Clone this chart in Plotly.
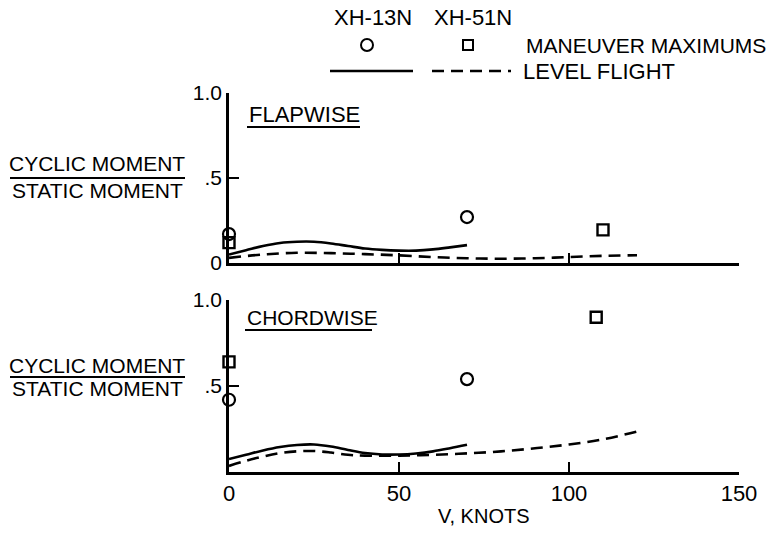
import plotly.graph_objects as go

# ---- data -------------------------------------------------------------
# Flapwise, level flight
flap_solid_v = [0, 5, 10, 15, 20, 25, 30, 35, 40, 45, 50, 55, 60, 65, 70]
flap_solid_m = [0.05, 0.075, 0.10, 0.118, 0.125, 0.125, 0.115, 0.10, 0.085, 0.077, 0.073, 0.073, 0.08, 0.092, 0.105]
flap_dash_v = [0, 10, 20, 30, 40, 50, 60, 70, 80, 90, 100, 110, 120]
flap_dash_m = [0.03, 0.05, 0.06, 0.058, 0.052, 0.045, 0.035, 0.028, 0.025, 0.028, 0.035, 0.042, 0.046]
# Flapwise, maneuver maximums
flap_circ_v = [0, 70]
flap_circ_m = [0.17, 0.27]
flap_sq_v = [0, 110]
flap_sq_m = [0.12, 0.195]

# Chordwise, level flight
chord_solid_v = [0, 5, 10, 15, 20, 25, 30, 35, 40, 45, 50, 55, 60, 65, 70]
chord_solid_m = [0.075, 0.10, 0.125, 0.145, 0.157, 0.16, 0.148, 0.128, 0.11, 0.102, 0.102, 0.108, 0.12, 0.138, 0.158]
chord_dash_v = [0, 5, 10, 15, 20, 25, 30, 35, 40, 50, 60, 70, 80, 90, 100, 110, 120]
chord_dash_m = [0.035, 0.065, 0.09, 0.11, 0.12, 0.122, 0.113, 0.10, 0.095, 0.095, 0.10, 0.108, 0.12, 0.138, 0.16, 0.19, 0.235]
# Chordwise, maneuver maximums
chord_circ_v = [0, 70]
chord_circ_m = [0.42, 0.54]
chord_sq_v = [0, 108]
chord_sq_m = [0.64, 0.90]

x_ticks = [0, 50, 100, 150]
x_tick_text = ["0", "50", "100", "150"]
y_ticks = [0, 0.5, 1.0]
y_tick_text_top = ["0", ".5", "1.0"]
y_tick_text_bottom = ["", ".5", "1.0"]

# ---- styling ----------------------------------------------------------
W, H = 784, 535
FONT = "Liberation Sans"
INK = "black"
LW = 2.6
DASH = "12px,7px"


def px(x):
    return x / W


def py(y):
    return 1 - y / H


fig = go.Figure()


def add_panel(xa, ya, sv, sm, dv, dm, cv, cm, qv, qm):
    fig.add_trace(go.Scatter(x=sv, y=sm, mode="lines", xaxis=xa, yaxis=ya,
                             line=dict(color=INK, width=LW, shape="spline"),
                             showlegend=False, hoverinfo="skip"))
    fig.add_trace(go.Scatter(x=dv, y=dm, mode="lines", xaxis=xa, yaxis=ya,
                             line=dict(color=INK, width=LW, dash=DASH, shape="spline"),
                             showlegend=False, hoverinfo="skip"))
    fig.add_trace(go.Scatter(x=cv, y=cm, mode="markers", xaxis=xa, yaxis=ya,
                             marker=dict(symbol="circle-open", size=12, color=INK,
                                         line=dict(width=2.2, color=INK)),
                             cliponaxis=False, showlegend=False, hoverinfo="skip"))
    fig.add_trace(go.Scatter(x=qv, y=qm, mode="markers", xaxis=xa, yaxis=ya,
                             marker=dict(symbol="square-open", size=11, color=INK,
                                         line=dict(width=2.4, color=INK)),
                             cliponaxis=False, showlegend=False, hoverinfo="skip"))


add_panel("x", "y", flap_solid_v, flap_solid_m, flap_dash_v, flap_dash_m,
          flap_circ_v, flap_circ_m, flap_sq_v, flap_sq_m)
add_panel("x2", "y2", chord_solid_v, chord_solid_m, chord_dash_v, chord_dash_m,
          chord_circ_v, chord_circ_m, chord_sq_v, chord_sq_m)

x_dom = [px(229), px(739)]
common_x = dict(range=[0, 150], domain=x_dom, showline=True, linecolor=INK, linewidth=LW,
                ticks="inside", ticklen=10, tickwidth=2.2, tickcolor=INK,
                tickvals=x_ticks, ticktext=x_tick_text, showgrid=False, zeroline=False,
                automargin=False,
                tickfont=dict(family=FONT, size=22, color=INK))
common_y = dict(range=[0, 1.0], showline=True, linecolor=INK, linewidth=LW,
                ticks="inside", ticklen=10, tickwidth=2.2, tickcolor=INK,
                tickvals=y_ticks, showgrid=False, zeroline=False, automargin=False,
                tickfont=dict(family=FONT, size=21, color=INK))

fig.update_layout(
    width=W, height=H,
    margin=dict(l=0, r=0, t=0, b=0),
    paper_bgcolor="white", plot_bgcolor="white",
    xaxis=dict(common_x, anchor="y", showticklabels=False),
    yaxis=dict(common_y, anchor="x", domain=[py(263), py(93)],
               ticktext=y_tick_text_top),
    xaxis2=dict(common_x, anchor="y2", showticklabels=True),
    yaxis2=dict(common_y, anchor="x2", domain=[py(472), py(300)],
                ticktext=y_tick_text_bottom),
    font=dict(family=FONT, color=INK),
)

ann = []
shapes = []


def text(x, y, s, size=20, xanchor="center"):
    ann.append(dict(x=px(x), y=py(y), xref="paper", yref="paper", text=s,
                    showarrow=False, xanchor=xanchor, yanchor="middle",
                    font=dict(family=FONT, size=size, color=INK)))


def hline(x0, x1, y, width=2, dash=None):
    line = dict(color=INK, width=width)
    if dash:
        line["dash"] = dash
    shapes.append(dict(type="line", xref="paper", yref="paper",
                       x0=px(x0), x1=px(x1), y0=py(y), y1=py(y), line=line))


# Legend key
text(373, 17, "XH-13N", 22)
text(473, 17, "XH-51N", 22)
shapes.append(dict(type="circle", xref="paper", yref="paper",
                   x0=px(361), x1=px(373), y0=py(51), y1=py(39),
                   line=dict(color=INK, width=2)))
shapes.append(dict(type="rect", xref="paper", yref="paper",
                   x0=px(463), x1=px(473), y0=py(50), y1=py(40),
                   line=dict(color=INK, width=2)))
text(524, 45, "MANEUVER MAXIMUMS", 21, "left")
hline(330, 413, 71, 2.4)
hline(432, 511, 71, 2.4, DASH)
text(521, 71, "LEVEL FLIGHT", 22, "left")

# Panel titles
text(247, 114, "FLAPWISE", 22, "left")
hline(247, 360, 127, 2)
text(245, 317, "CHORDWISE", 21, "left")
hline(245, 372, 330, 2)

# Ratio axis titles
for yc, yl, ys in [(163, 178, 190), (365, 377, 388)]:
    text(97, yc, "CYCLIC MOMENT", 21)
    hline(10, 185, yl, 2)
    text(97, ys, "STATIC MOMENT", 21)

# X-axis title
text(484, 516, "V, KNOTS", 20)

fig.update_layout(annotations=ann, shapes=shapes)
fig.write_html("out.html")
